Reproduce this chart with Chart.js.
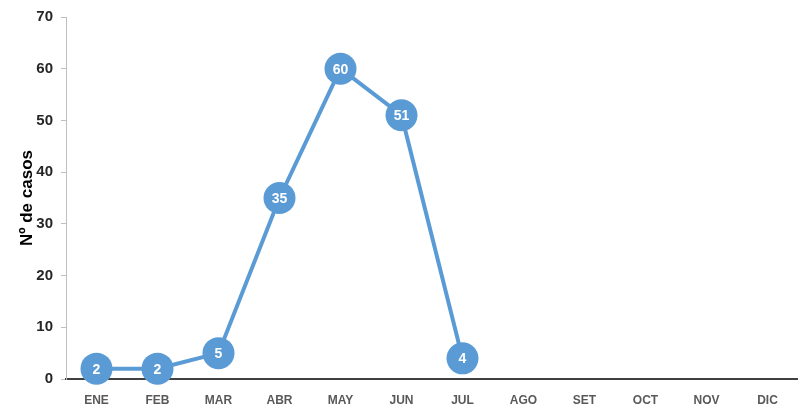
<!DOCTYPE html>
<html><head><meta charset="utf-8">
<script src="https://cdn.jsdelivr.net/npm/chart.js@4/dist/chart.umd.min.js"></script>
<style>html,body{margin:0;padding:0;background:#fff}#wrap{width:798px;height:408px}</style>
</head><body><div id="wrap"><canvas id="c" width="798" height="408"></canvas></div>
<script>
const months = ["ENE","FEB","MAR","ABR","MAY","JUN","JUL","AGO","SET","OCT","NOV","DIC"];
const cases = [2,2,5,35,60,51,4,null,null,null,null,null];
const yTicks = [0,10,20,30,40,50,60,70];
const yTitle = "Nº de casos";

const labelPlugin = {
  id:'ptlabels',
  afterDatasetsDraw(chart){
    const ctx = chart.ctx;
    const meta = chart.getDatasetMeta(0);
    ctx.save();
    ctx.fillStyle = '#fff';
    ctx.font = 'bold 14px "Liberation Sans", Arial, sans-serif';
    ctx.textAlign = 'center';
    ctx.textBaseline = 'middle';
    meta.data.forEach((p,i)=>{
      const v = chart.data.datasets[0].data[i];
      if(v==null) return;
      ctx.fillText(String(v), p.x, p.y+1);
    });
    ctx.restore();
  }
};

new Chart(document.getElementById('c'), {
  type:'line',
  data:{labels:months, datasets:[{
    data:cases, borderColor:'#5B9BD5', backgroundColor:'#5B9BD5',
    borderWidth:4, pointRadius:16, pointBorderWidth:0, pointBackgroundColor:'#5B9BD5',
    pointHoverRadius:16, clip:false, spanGaps:false, tension:0
  }]},
  options:{
    responsive:false, animation:false, devicePixelRatio:1,
    layout:{autoPadding:false, padding:{top:16,right:-4,left:0,bottom:0}},
    plugins:{legend:{display:false}, tooltip:{enabled:false}},
    scales:{
      x:{
        offset:true,
        grid:{drawOnChartArea:false, drawTicks:false},
        border:{color:'#404040', width:2},
        ticks:{color:'#595959', font:{family:'"Liberation Sans", Arial, sans-serif', size:12, weight:'bold'}, padding:14, maxRotation:0},
        afterFit(s){ s.height = 29; }
      },
      y:{
        min:0, max:70,
        afterBuildTicks(s){ s.ticks = yTicks.map(v=>({value:v})); },
        grid:{drawOnChartArea:false, drawTicks:true, tickLength:5, color:'#BFBFBF'},
        border:{color:'#BFBFBF', width:1},
        ticks:{color:'#262626', font:{family:'"Liberation Sans", Arial, sans-serif', size:15, weight:'bold'}, padding:8},
        title:{display:true, text:yTitle, color:'#000', font:{family:'"Liberation Sans", Arial, sans-serif', size:17, weight:'bold'}, padding:{top:17,bottom:0}},
        afterFit(s){ s.width = 66; }
      }
    }
  },
  plugins:[labelPlugin]
});
</script></body></html>
